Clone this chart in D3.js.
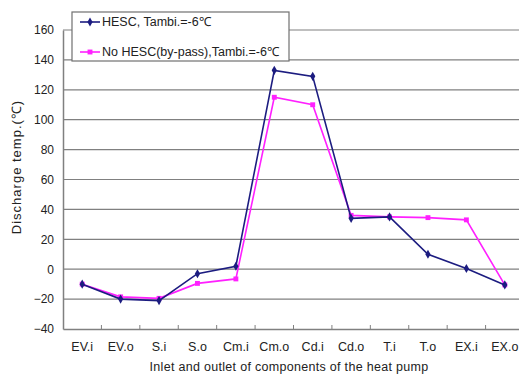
<!DOCTYPE html>
<html>
<head>
<meta charset="utf-8">
<script src="https://cdn.jsdelivr.net/npm/d3@7"></script>
<style>
  body { margin: 0; background: #fff; }
  svg { font-family: Arial, "Liberation Sans", sans-serif; }
  .grid line { stroke: #808080; stroke-width: 1.2; }
  .tick text { font-size: 12px; fill: #222; }
</style>
</head>
<body>
<svg width="519" height="374"></svg>
<script>
// points along the heat pump loop
const categories = ['EV.i', 'EV.o', 'S.i', 'S.o', 'Cm.i', 'Cm.o', 'Cd.i', 'Cd.o', 'T.i', 'T.o', 'EX.i', 'EX.o'];
const hesc = [-10, -20, -21, -3, 2, 133, 129, 34, 35, 10, 0.5, -10.5];
const bypass = [-10, -18.5, -19.5, -9.5, -6.5, 115, 110, 36, 35, 34.5, 33, -10.5];
const yTicks = [-40, -20, 0, 20, 40, 60, 80, 100, 120, 140, 160];
const seriesNames = ['HESC, Tambi.=-6\u2103', 'No HESC(by-pass),Tambi.=-6\u2103'];

var svg = d3.select('svg');
// plot box (right side runs past the window, as in the original)
var pLeft = 63, pRight = 524, pTop = 30, pBottom = 329;

var x = d3.scaleBand().domain(categories).range([pLeft, pRight]);
var y = d3.scaleLinear().domain([-40, 160]).range([pBottom, pTop]);

// horizontal grid
svg.append('g').attr('class', 'grid')
    .selectAll('line').data(yTicks.slice(1)).join('line')
    .attr('x1', pLeft).attr('x2', pRight)
    .attr('y1', d => y(d)).attr('y2', d => y(d));

// y axis
var yAxis = svg.append('g')
    .attr('transform', 'translate(' + pLeft + ',0)')
    .call(d3.axisLeft(y).tickValues(yTicks).tickSize(0).tickPadding(9));
yAxis.select('.domain').attr('stroke', '#808080').attr('stroke-width', 1.5);

// x axis, ticks sit between the categories
var xAxis = svg.append('g')
    .attr('transform', 'translate(0,' + pBottom + ')')
    .call(d3.axisBottom(x).tickSize(0).tickPadding(13));
xAxis.select('.domain').attr('stroke', '#808080').attr('stroke-width', 1.5);
xAxis.selectAll('.tick text').style('font-size', '12.5px');
svg.append('g').selectAll('line').data(categories.slice(1)).join('line')
    .attr('x1', d => x(d)).attr('x2', d => x(d))
    .attr('y1', pBottom).attr('y2', pBottom - 4)
    .attr('stroke', '#808080');

svg.append('text')
    .attr('x', 289).attr('y', 371)
    .attr('text-anchor', 'middle')
    .style('font-size', '12.5px').style('letter-spacing', '0.3px').style('fill', '#222')
    .text('Inlet and outlet of components of the heat pump');

svg.append('text')
    .attr('transform', 'translate(16,167) rotate(-90)')
    .attr('text-anchor', 'middle')
    .attr('dy', '0.35em')
    .style('font-size', '13px').style('letter-spacing', '1px').style('fill', '#222')
    .text('Discharge temp.(\u2103)');

var line = d3.line()
    .x((d, i) => x(categories[i]) + x.bandwidth() / 2)
    .y(d => y(d));

var series = [
    {values: hesc, color: '#1c1c80', symbol: d3.symbolDiamond},
    {values: bypass, color: '#ff20ff', symbol: d3.symbolSquare}
];

// draw magenta first so navy sits on top
series.slice().reverse().forEach(function(s) {
    svg.append('path')
        .attr('d', line(s.values))
        .attr('fill', 'none')
        .attr('stroke', s.color)
        .attr('stroke-width', 1.6);
    svg.append('g').selectAll('path').data(s.values).join('path')
        .attr('transform', (d, i) => 'translate(' + (x(categories[i]) + x.bandwidth() / 2) + ',' + y(d) + ')')
        .attr('d', d3.symbol().type(s.symbol).size(24))
        .attr('fill', s.color);
});

// legend
var legend = svg.append('g');
legend.append('rect')
    .attr('x', 72).attr('y', 12).attr('width', 217).attr('height', 49)
    .attr('fill', '#fff').attr('stroke', '#707070').attr('stroke-width', 1.2);
series.forEach(function(s, i) {
    var ly = 22 + i * 30;
    legend.append('line')
        .attr('x1', 80).attr('x2', 100).attr('y1', ly).attr('y2', ly)
        .attr('stroke', s.color).attr('stroke-width', 1.6);
    legend.append('path')
        .attr('transform', 'translate(90,' + ly + ')')
        .attr('d', d3.symbol().type(s.symbol).size(24))
        .attr('fill', s.color);
    legend.append('text')
        .attr('x', 102).attr('y', ly).attr('dy', '0.35em')
        .style('font-size', '12.5px').style('fill', '#222')
        .text(seriesNames[i]);
});
</script>
</body>
</html>
